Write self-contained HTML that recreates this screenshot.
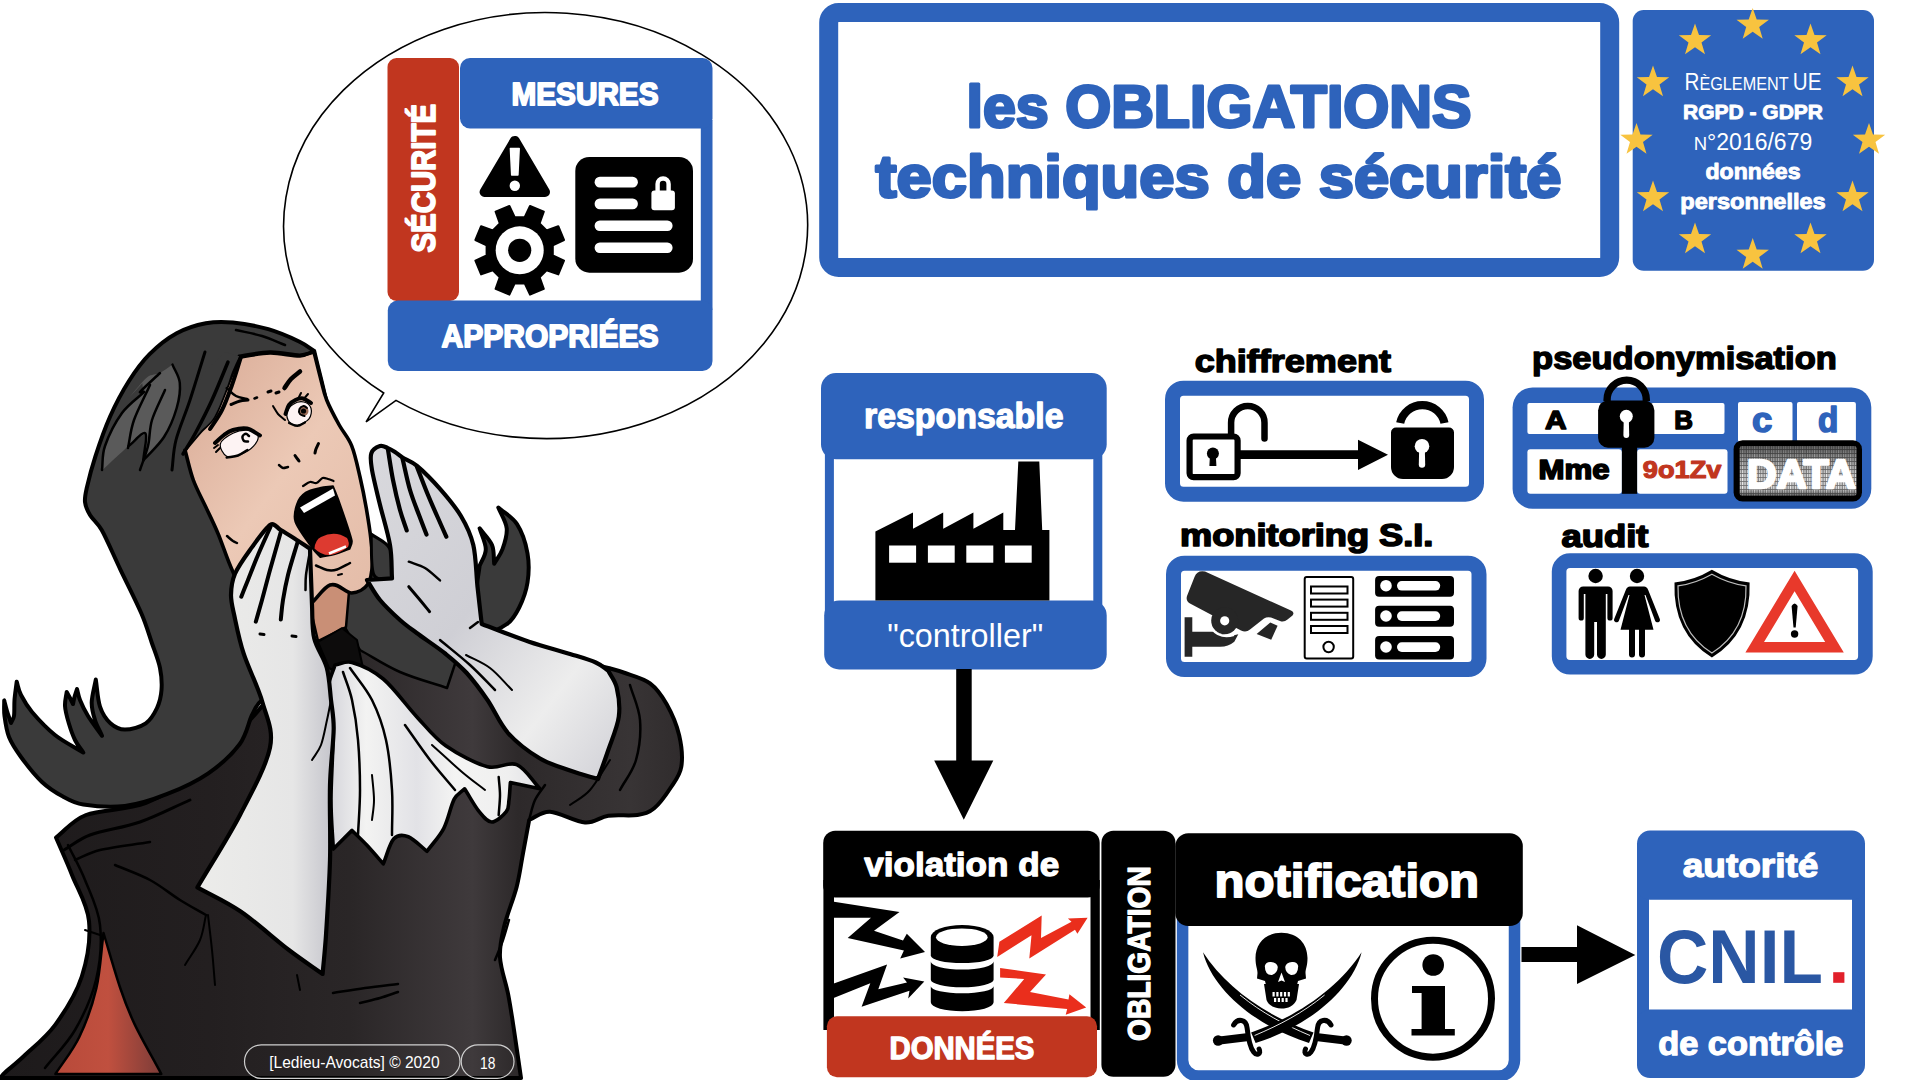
<!DOCTYPE html>
<html lang="fr">
<head>
<meta charset="utf-8">
<title>les OBLIGATIONS techniques de sécurité</title>
<style>
html,body{margin:0;padding:0;background:#fff;}
body{width:1920px;height:1080px;overflow:hidden;position:relative;}
svg{position:absolute;left:0;top:0;display:block;}
text{font-family:"Liberation Sans",sans-serif;}
.xb{font-weight:bold;paint-order:stroke fill;stroke-linejoin:round;}
</style>
</head>
<body>
<svg width="1920" height="1080" viewBox="0 0 1920 1080">
<defs>
<path id="star" d="M0,-17 L4,-5.5 L16.2,-5.3 L6.5,2.1 L10,13.8 L0,6.8 L-10,13.8 L-6.5,2.1 L-16.2,-5.3 L-4,-5.5 Z"/>
</defs>
<rect width="1920" height="1080" fill="#fff"/>

<!--ILLUS_START-->
<g id="illustration">
<defs>
<linearGradient id="gRobe" gradientUnits="userSpaceOnUse" x1="0" y1="0" x2="700" y2="0"><stop offset="0" stop-color="#1d1a1b"/><stop offset="0.3" stop-color="#231f20"/><stop offset="0.5" stop-color="#2a2627"/><stop offset="0.675" stop-color="#3f3a3c"/><stop offset="0.74" stop-color="#2d292a"/><stop offset="0.9" stop-color="#383435"/><stop offset="1" stop-color="#2d292a"/></linearGradient>
<linearGradient id="gGlove" x1="0" y1="0" x2="1" y2="0"><stop offset="0" stop-color="#ececea"/><stop offset="0.7" stop-color="#e6e6e6"/><stop offset="1" stop-color="#c4c4cb"/></linearGradient>
<linearGradient id="gGloveR" x1="0" y1="0" x2="1" y2="1"><stop offset="0" stop-color="#d9d9dd"/><stop offset="0.45" stop-color="#cfcfd5"/><stop offset="0.75" stop-color="#ededed"/><stop offset="1" stop-color="#d0d0d6"/></linearGradient>
<linearGradient id="gJabot" x1="0" y1="0" x2="1" y2="0"><stop offset="0" stop-color="#d4d4da"/><stop offset="0.18" stop-color="#f3f3f2"/><stop offset="0.42" stop-color="#e2e2e6"/><stop offset="0.6" stop-color="#f4f4f3"/><stop offset="0.85" stop-color="#efefef"/><stop offset="1" stop-color="#e0e0e4"/></linearGradient>
<linearGradient id="gRed" x1="0" y1="0" x2="1" y2="0"><stop offset="0" stop-color="#b84a3a"/><stop offset="0.5" stop-color="#c0503f"/><stop offset="1" stop-color="#7c3c38"/></linearGradient>
<linearGradient id="gFace" x1="0" y1="0" x2="1" y2="1"><stop offset="0" stop-color="#d8a994"/><stop offset="0.5" stop-color="#ecc9b6"/><stop offset="1" stop-color="#e3bba7"/></linearGradient>
</defs>
<path d="M56.0,837.5 C66.0,830.0 72.0,820.4 86.0,815.0 C101.0,809.2 127.0,810.5 146.0,803.0 C165.0,795.5 182.7,783.8 200.0,770.0 C217.3,756.2 231.0,740.9 250.0,720.0 C269.7,698.3 302.2,655.8 318.0,640.0 C326.7,631.3 334.7,625.0 345.0,625.0 C355.3,625.0 368.1,638.7 380.0,640.0 C391.9,641.3 401.8,633.0 416.7,633.0 C436.7,633.0 468.1,634.2 500.0,640.0 C531.9,645.8 587.5,662.5 608.3,668.0 C615.0,669.8 618.5,670.6 625.0,673.0 C632.0,675.5 643.0,678.1 650.0,683.3 C657.0,688.5 661.8,695.5 666.7,704.2 C671.6,712.9 676.8,725.0 679.2,735.4 C681.6,745.8 682.7,758.0 681.3,766.7 C679.9,775.4 675.3,780.6 670.8,787.5 C666.3,794.4 659.8,803.7 654.2,808.3 C648.7,812.9 644.6,813.8 637.5,815.0 C629.9,816.2 617.0,814.5 608.3,815.8 C599.5,817.0 594.7,823.2 585.0,822.5 C575.3,821.8 559.3,812.1 550.0,811.7 C541.1,811.3 536.1,817.2 529.2,820.0 C527.1,831.1 525.1,842.2 523.0,853.3 C520.9,864.4 519.8,874.5 516.7,886.7 C513.6,898.9 507.0,914.5 504.2,926.3 C501.4,938.1 499.3,946.0 500.0,957.5 C500.7,969.0 506.0,982.9 508.3,995.0 C510.6,1007.1 511.9,1016.2 514.0,1030.0 C516.1,1043.8 518.7,1062.0 521.0,1078.0 L0.0,1078.0 C1.6,1076.3 2.7,1074.7 4.8,1072.8 C8.8,1069.1 16.6,1063.0 24.0,1056.0 C32.4,1048.0 45.8,1037.8 55.4,1024.6 C65.0,1011.3 76.2,993.8 81.8,976.5 C87.4,959.2 90.6,937.9 89.0,921.0 C87.4,904.1 77.7,889.3 72.2,875.4 C66.7,861.5 61.4,850.1 56.0,837.5Z" fill="url(#gRobe)" stroke="#000" stroke-width="4" stroke-linejoin="round" />
<path d="M103.5,933.0 C109.1,951.5 115.2,973.2 120.4,988.5 C125.4,1003.2 128.1,1010.6 134.8,1024.6 C141.6,1038.8 152.5,1057.5 161.3,1074.0 L55.4,1074.0 C63.4,1061.6 72.6,1051.0 79.4,1036.7 C86.2,1022.5 92.3,1005.8 96.3,988.5 C100.3,971.2 101.1,951.5 103.5,933.0Z" fill="url(#gRed)" stroke="#000" stroke-width="2.5" stroke-linejoin="round" />
<path d="M314.2,351.0 C309.3,347.9 305.9,344.7 299.6,341.7 C292.0,338.1 279.4,332.4 268.3,329.2 C257.2,326.0 243.3,323.5 232.9,322.5 C222.5,321.5 215.2,321.5 205.8,323.3 C196.4,325.1 186.1,328.2 176.7,333.3 C167.3,338.4 157.6,346.2 149.6,354.2 C141.6,362.2 135.4,370.9 128.8,381.3 C122.2,391.7 115.6,404.2 110.0,416.7 C104.4,429.2 99.2,444.6 95.4,456.3 C91.6,468.0 88.7,479.4 87.0,487.0 C85.7,492.9 84.5,497.3 85.0,502.0 C85.5,506.7 87.2,510.3 90.0,515.0 C92.8,519.7 98.0,523.4 101.7,530.0 C106.8,539.1 113.8,555.7 120.4,569.6 C127.0,583.5 136.1,601.1 141.3,613.3 C146.2,624.7 148.6,633.4 151.7,642.5 C154.8,651.6 158.4,660.1 160.0,668.0 C161.6,675.9 162.0,683.3 161.5,690.0 C161.0,696.7 159.6,702.5 157.0,708.0 C154.4,713.5 151.1,719.7 145.8,723.3 C140.5,726.9 130.9,729.6 125.0,729.6 C119.1,729.6 114.6,727.1 110.4,723.3 C106.2,719.5 102.4,714.0 100.0,706.7 C97.6,699.4 97.2,688.6 95.8,679.6 C94.4,687.2 91.8,695.8 91.7,702.5 C91.6,709.2 93.3,714.5 95.0,720.0 C96.7,725.5 99.7,730.5 102.0,735.8 C97.3,729.2 91.7,722.0 88.0,716.0 C84.3,710.0 81.8,704.5 80.0,700.0 C78.3,695.8 78.0,692.7 77.0,689.0 C76.2,691.7 75.2,694.5 74.5,697.0 C73.8,699.5 73.5,701.7 73.0,704.0 C72.0,702.0 71.0,700.0 70.0,698.0 C69.0,696.0 67.8,694.0 66.7,692.0 C66.1,696.7 64.7,700.8 65.0,706.0 C65.3,711.2 67.1,717.6 68.8,723.3 C70.5,729.0 72.6,735.1 75.0,740.0 C77.4,744.9 80.5,748.3 83.3,752.5 C73.9,746.7 63.5,741.8 55.0,735.0 C46.5,728.2 37.7,718.7 32.0,712.0 C26.8,705.8 23.6,700.0 21.0,695.0 C18.5,690.0 18.1,686.1 16.7,681.7 C16.0,687.8 14.9,694.3 14.5,700.0 C14.1,705.7 14.6,712.2 14.0,716.0 C13.5,719.0 12.0,720.7 11.0,723.0 C9.7,719.0 8.1,714.8 7.0,711.0 C5.9,707.2 5.1,703.9 4.2,700.4 C4.3,705.6 3.7,709.9 4.5,716.0 C5.3,722.1 6.3,730.2 9.0,737.0 C11.7,743.8 15.4,749.3 20.8,756.7 C26.2,764.2 34.8,775.1 41.7,781.7 C48.7,788.3 55.6,792.5 62.5,796.3 C69.4,800.1 74.4,803.2 83.3,804.6 C93.7,806.2 111.1,807.7 125.0,806.0 C138.9,804.3 152.8,799.7 166.7,794.2 C180.6,788.8 196.2,781.6 208.3,773.3 C220.5,765.0 232.3,753.9 239.6,744.2 C246.9,734.5 248.3,722.4 252.0,715.0 C255.3,708.6 256.5,704.2 262.0,700.0 C267.5,695.8 279.6,698.5 285.0,690.0 C291.3,680.0 294.6,660.2 300.0,640.0 C305.8,618.3 313.3,583.3 320.0,560.0 C326.7,536.7 338.3,523.3 340.0,500.0 C341.7,476.7 334.3,444.8 330.0,420.0 C325.7,395.2 319.5,374.0 314.2,351.0Z" fill="#3a3a3a" stroke="#000" stroke-width="4" stroke-linejoin="round" />
<path d="M498.3,507.5 C504.5,513.1 512.1,516.6 517.0,524.2 C521.9,531.8 525.8,543.6 527.5,553.3 C529.2,563.0 528.9,573.5 527.5,582.5 C526.1,591.5 522.7,600.5 519.2,607.5 C515.7,614.5 512.3,620.5 506.7,624.2 C501.1,628.0 490.9,634.0 485.8,630.0 C480.7,626.0 477.0,610.7 476.0,600.0 C475.0,589.3 478.4,577.2 479.6,565.8 C481.7,560.3 485.8,555.5 485.8,549.2 C485.8,543.0 481.7,535.3 479.6,528.3 C483.7,533.9 489.6,539.1 492.0,545.0 C494.4,550.9 493.5,557.5 494.2,563.8 C497.0,558.9 500.4,555.1 502.5,549.2 C504.6,543.3 507.4,535.2 506.7,528.3 C506.0,521.3 501.1,514.4 498.3,507.5Z" fill="#3a3a3a" stroke="#000" stroke-width="4" stroke-linejoin="round" />
<path d="M336.0,590.0 C348.0,580.0 362.2,561.7 372.0,560.0 C381.8,558.3 390.0,571.2 395.0,580.0 C400.0,588.8 396.2,603.5 402.0,613.0 C407.8,622.5 420.7,630.0 430.0,637.0 C439.3,644.0 448.7,649.0 458.0,655.0 L447.0,688.0 C431.3,682.7 414.5,678.3 400.0,672.0 C385.5,665.7 373.3,657.3 360.0,650.0 C354.7,641.7 348.0,635.0 344.0,625.0 C340.0,615.0 338.7,601.7 336.0,590.0Z" fill="#3a3a3a" stroke="#000" stroke-width="2.5" stroke-linejoin="round" />
<path d="M305.0,585.0 L350.0,580.0 L346.0,627.0 L318.0,641.0 L305.0,585.0Z" fill="#c98f76" stroke="#000" stroke-width="2.5" stroke-linejoin="round" />
<path d="M239.2,356.3 C249.5,354.9 259.9,352.2 270.0,352.0 C280.1,351.8 292.3,355.2 299.6,355.2 C305.5,355.2 309.2,353.1 314.0,352.0 C316.3,361.3 318.9,372.0 321.0,380.0 C323.1,388.0 323.7,392.5 326.7,400.0 C329.7,407.5 335.0,417.4 339.2,425.0 C343.4,432.6 348.2,437.1 351.7,445.8 C355.2,454.5 357.6,466.6 360.0,477.0 C362.4,487.4 364.5,497.8 366.3,508.3 C368.1,518.8 370.0,530.9 371.0,540.0 C372.0,549.1 373.0,555.7 372.5,563.0 C372.0,570.3 371.5,579.0 368.0,584.0 C364.5,589.0 358.0,592.8 351.7,593.0 C345.4,593.2 338.6,582.2 330.0,585.0 C321.4,587.8 313.3,607.5 300.0,610.0 C286.7,612.5 261.2,606.4 250.0,600.0 C238.8,593.6 238.2,582.7 232.9,571.7 C227.6,560.7 222.8,545.0 218.3,534.2 C213.8,523.4 210.0,516.0 205.8,507.0 C201.6,498.0 196.8,489.5 193.3,480.0 C189.8,470.5 187.8,460.0 185.0,450.0 C190.0,444.0 195.1,437.6 200.0,432.0 C204.9,426.4 209.9,423.9 214.2,416.7 C218.6,409.3 222.5,397.6 226.7,387.5 C230.9,377.4 235.0,366.7 239.2,356.3Z" fill="url(#gFace)" stroke="#000" stroke-width="3.6" stroke-linejoin="round" />
<path d="M239.2,356.3 C236.8,361.5 234.1,366.8 232.0,372.0 C229.9,377.2 229.1,381.4 226.7,387.5 C223.7,394.9 218.6,409.3 214.2,416.7 C209.9,423.9 204.9,426.4 200.0,432.0 C195.1,437.6 190.0,444.0 185.0,450.0 C182.7,446.7 177.0,444.8 178.0,440.0 C180.5,428.3 192.2,394.7 200.0,380.0 C207.1,366.8 216.7,361.3 225.0,352.0 L239.2,356.3Z" fill="#3a3a3a" stroke="#000" stroke-width="0" stroke-linecap="round" stroke-linejoin="round"/>
<path d="M241.0,357.0 C238.0,366.3 235.2,376.2 232.0,385.0 C228.8,393.8 225.7,402.7 222.0,410.0 C218.3,417.3 214.0,422.7 210.0,429.0" fill="none" stroke="#000" stroke-width="4" stroke-linecap="round" stroke-linejoin="round"/>
<path d="M228.0,362.0 C222.7,374.7 217.3,388.3 212.0,400.0 C206.7,411.7 200.8,423.0 196.0,432.0 C191.2,441.0 187.3,446.7 183.0,454.0" fill="none" stroke="#000" stroke-width="3.5" stroke-linecap="round" stroke-linejoin="round"/>
<path d="M226.7,388.0 C229.8,390.7 232.6,394.2 236.0,396.0 C239.4,397.8 243.3,398.0 247.0,399.0" fill="none" stroke="#000" stroke-width="2.5" stroke-linecap="round" stroke-linejoin="round"/>
<path d="M314.0,351.0 C309.3,352.7 305.9,355.7 300.0,356.0 C292.7,356.3 279.8,352.8 270.0,353.0 C260.2,353.2 250.7,355.7 241.0,357.0" fill="none" stroke="#000" stroke-width="3.5" stroke-linecap="round" stroke-linejoin="round"/>
<path d="M172.5,364.6 C174.9,370.8 179.1,376.0 179.8,383.3 C180.5,390.6 179.3,399.3 176.7,408.3 C174.1,417.3 169.8,428.8 164.2,437.5 C158.6,446.2 150.3,452.8 143.3,460.4 L145.4,433.3 C139.9,437.5 135.1,440.4 128.8,445.8 C121.5,452.1 110.7,462.5 101.7,470.8 C102.7,462.5 101.4,455.3 104.8,445.8 C108.3,436.1 116.1,421.5 122.5,412.5 C128.9,403.5 136.4,398.6 143.3,391.7 L142.3,383.3 L128.8,397.9 C135.0,390.9 142.3,381.2 147.5,377.0 C151.6,373.7 155.8,375.0 160.0,372.9 C164.2,370.8 168.3,367.4 172.5,364.6Z" fill="#5a5a5a" stroke="#000" stroke-width="0" stroke-linecap="round" stroke-linejoin="round"/>
<path d="M160.0,373.0 C153.3,379.3 142.7,388.8 140.0,392.0 C139.0,393.2 145.0,390.8 144.0,392.0 C141.0,395.5 128.5,404.0 122.0,413.0 C115.5,422.0 108.3,436.5 105.0,446.0 C101.8,455.1 103.0,462.0 102.0,470.0" fill="none" stroke="#000" stroke-width="2.5" stroke-linecap="round" stroke-linejoin="round"/>
<path d="M143.3,460.4 C150.2,452.6 158.4,445.7 164.0,437.0 C169.6,428.3 174.1,417.0 176.7,408.0 C179.3,399.0 180.5,390.2 179.8,383.0 C179.1,375.8 174.9,370.7 172.5,364.6" fill="none" stroke="#000" stroke-width="2.5" stroke-linecap="round" stroke-linejoin="round"/>
<path d="M128.8,445.8 C134.3,441.6 143.0,430.9 145.4,433.3 C147.8,435.7 144.0,451.4 143.3,460.4" fill="none" stroke="#000" stroke-width="2.5" stroke-linecap="round" stroke-linejoin="round"/>
<path d="M236.0,330.0 C244.7,332.0 253.8,333.5 262.0,336.0 C270.2,338.5 277.3,342.0 285.0,345.0" fill="none" stroke="#000" stroke-width="2.5" stroke-linecap="round" stroke-linejoin="round"/>
<path d="M205.0,352.0 C200.0,368.0 194.8,385.3 190.0,400.0 C185.2,414.7 179.0,428.3 176.0,440.0 C173.0,451.7 173.3,460.0 172.0,470.0" fill="none" stroke="#000" stroke-width="3" stroke-linecap="round" stroke-linejoin="round"/>
<path d="M150.0,385.0 C144.7,396.7 137.7,409.5 134.0,420.0 C130.3,430.5 130.0,438.7 128.0,448.0" fill="none" stroke="#000" stroke-width="2.5" stroke-linecap="round" stroke-linejoin="round"/>
<path d="M165.0,390.0 C160.7,400.0 154.8,410.7 152.0,420.0 C149.2,429.3 150.0,437.7 148.0,446.0 C146.0,454.3 142.7,462.0 140.0,470.0" fill="none" stroke="#000" stroke-width="2.5" stroke-linecap="round" stroke-linejoin="round"/>
<path d="M220.4,443.8 C221.4,440.0 228.4,435.6 232.9,433.3 C237.4,431.0 243.3,429.9 247.5,430.2 C251.7,430.5 256.8,432.8 257.9,435.4 C258.9,438.0 256.6,442.7 253.8,445.8 C251.0,448.9 245.8,452.4 241.3,454.2 C236.8,455.9 230.2,458.0 226.7,456.3 C223.2,454.6 219.4,447.6 220.4,443.8Z" fill="#fdf3f3" stroke="#000" stroke-width="1.2" stroke-linecap="round" stroke-linejoin="round"/>
<path d="M215.0,443.0 C218.0,440.3 221.0,437.2 224.0,435.0 C227.0,432.8 229.2,431.1 233.0,430.0 C236.8,428.9 242.5,427.6 247.0,428.5 C251.5,429.4 255.7,433.1 260.0,435.4" fill="none" stroke="#000" stroke-width="4" stroke-linecap="round" stroke-linejoin="round"/>
<path d="M226.7,457.5 C230.5,456.8 234.5,456.8 238.0,455.5 C241.5,454.2 244.3,451.8 247.5,450.0" fill="none" stroke="#000" stroke-width="2.5" stroke-linecap="round" stroke-linejoin="round"/>
<path d="M249.0,436.0 C248.0,435.3 247.1,433.7 246.0,433.8 C244.9,433.9 242.8,435.3 242.5,436.5 C242.2,437.7 243.1,440.2 244.0,441.0 C244.9,441.8 246.7,441.3 248.0,441.5" fill="none" stroke="#000" stroke-width="2.5" stroke-linecap="round" stroke-linejoin="round"/>
<path d="M214.0,448.0 L218.0,445.0" fill="none" stroke="#000" stroke-width="2" stroke-linecap="round" stroke-linejoin="round"/>
<path d="M216.0,452.0 L220.0,448.0" fill="none" stroke="#000" stroke-width="2" stroke-linecap="round" stroke-linejoin="round"/>
<path d="M287.0,412.5 C287.7,409.6 290.5,405.9 293.3,404.2 C296.1,402.4 300.9,401.3 303.8,402.0 C306.8,402.7 310.1,405.5 311.0,408.3 C311.9,411.1 311.2,416.0 309.0,418.8 C306.8,421.6 300.8,424.5 297.5,425.0 C294.2,425.5 290.9,424.0 289.2,421.9 C287.4,419.8 286.3,415.4 287.0,412.5Z" fill="#fdf3f3" stroke="#000" stroke-width="1.2" stroke-linecap="round" stroke-linejoin="round"/>
<path d="M285.5,414.0 C286.7,411.0 287.4,407.3 289.0,405.0 C290.6,402.7 293.1,401.1 295.4,400.0 C297.7,398.9 300.4,398.0 303.0,398.5 C305.6,399.0 308.3,401.5 311.0,403.0" fill="none" stroke="#000" stroke-width="4" stroke-linecap="round" stroke-linejoin="round"/>
<path d="M289.0,423.0 C291.8,424.0 294.8,426.1 297.5,426.0 C300.2,425.9 302.5,423.7 305.0,422.5" fill="none" stroke="#000" stroke-width="2.2" stroke-linecap="round" stroke-linejoin="round"/>
<circle cx="303.5" cy="411" r="5" fill="#9a6a55"/><circle cx="303.5" cy="411" r="2.6" fill="#000"/>
<path d="M307.0,408.0 C305.8,407.3 304.8,405.8 303.5,406.0 C302.2,406.2 300.1,407.7 299.5,409.0 C298.9,410.3 299.2,412.8 300.0,414.0 C300.8,415.2 303.0,415.3 304.5,416.0" fill="none" stroke="#000" stroke-width="2" stroke-linecap="round" stroke-linejoin="round"/>
<path d="M299.0,397.0 L301.0,393.0" fill="none" stroke="#000" stroke-width="2" stroke-linecap="round" stroke-linejoin="round"/>
<path d="M305.0,397.5 L308.0,394.0" fill="none" stroke="#000" stroke-width="2" stroke-linecap="round" stroke-linejoin="round"/>
<path d="M284.5,388.0 C286.7,385.0 288.4,381.8 291.0,379.0 C293.6,376.2 297.0,374.0 300.0,371.5" fill="none" stroke="#000" stroke-width="4.5" stroke-linecap="round" stroke-linejoin="round"/>
<path d="M268.0,392.0 L271.0,391.0" fill="none" stroke="#000" stroke-width="3" stroke-linecap="round" stroke-linejoin="round"/>
<path d="M276.0,393.0 L279.0,392.0" fill="none" stroke="#000" stroke-width="3" stroke-linecap="round" stroke-linejoin="round"/>
<path d="M231.0,404.5 C234.0,403.3 237.2,401.8 240.0,401.0 C242.8,400.2 245.3,400.3 248.0,400.0" fill="none" stroke="#000" stroke-width="3" stroke-linecap="round" stroke-linejoin="round"/>
<path d="M254.5,398.5 L257.0,397.5" fill="none" stroke="#000" stroke-width="2.5" stroke-linecap="round" stroke-linejoin="round"/>
<path d="M273.0,406.0 C274.7,408.7 276.0,411.7 278.0,414.0 C280.0,416.3 282.7,418.0 285.0,420.0" fill="none" stroke="#000" stroke-width="2" stroke-linecap="round" stroke-linejoin="round"/>
<path d="M318.5,443.5 C317.7,445.3 316.6,447.4 316.0,449.0 C315.4,450.5 315.3,451.7 315.0,453.0" fill="none" stroke="#000" stroke-width="3" stroke-linecap="round" stroke-linejoin="round"/>
<path d="M295.0,455.5 C295.8,456.7 296.8,458.1 297.5,459.0 C298.1,459.8 298.5,460.3 299.0,461.0" fill="none" stroke="#000" stroke-width="3" stroke-linecap="round" stroke-linejoin="round"/>
<path d="M279.0,465.0 C280.3,466.0 281.5,467.7 283.0,468.0 C284.5,468.3 286.3,467.3 288.0,467.0" fill="none" stroke="#000" stroke-width="2.5" stroke-linecap="round" stroke-linejoin="round"/>
<path d="M303.0,486.0 C305.3,484.7 307.8,482.5 310.0,482.0 C312.2,481.5 314.4,483.7 316.5,483.0 C318.6,482.3 320.6,478.7 322.5,478.0 C324.4,477.3 326.2,478.5 328.0,479.0 C329.8,479.5 331.7,480.3 333.5,481.0" fill="none" stroke="#000" stroke-width="2.2" stroke-linecap="round" stroke-linejoin="round"/>
<path d="M316.0,565.5 C319.7,567.0 323.5,569.3 327.0,570.0 C330.5,570.7 333.2,570.7 337.0,569.5 C340.8,568.3 345.7,565.2 350.0,563.0" fill="none" stroke="#000" stroke-width="2.5" stroke-linecap="round" stroke-linejoin="round"/>
<path d="M338.0,575.0 L342.0,574.0" fill="none" stroke="#000" stroke-width="2" stroke-linecap="round" stroke-linejoin="round"/>
<path d="M227.0,536.0 C229.0,537.7 231.3,539.8 233.0,541.0 C234.5,542.0 235.7,542.3 237.0,543.0" fill="none" stroke="#000" stroke-width="2.5" stroke-linecap="round" stroke-linejoin="round"/>
<path d="M297.5,503.0 C299.2,498.1 302.1,495.0 305.8,492.5 C309.6,490.0 315.5,489.0 320.0,488.0 C324.5,487.0 328.7,486.9 333.0,486.3 C335.4,492.5 337.6,497.4 340.2,505.0 C343.3,514.0 350.1,533.1 351.7,540.4 C352.4,543.8 350.3,546.0 349.6,548.8 C344.7,550.5 339.9,552.6 335.0,554.0 C330.1,555.4 325.3,556.0 320.4,557.0 C317.9,554.3 315.6,552.4 313.0,548.8 C308.8,542.9 298.0,529.3 295.4,521.7 C293.0,514.6 295.8,507.9 297.5,503.0Z" fill="#000" stroke="#000" stroke-width="2" stroke-linejoin="round" />
<path d="M300,507.500 L333,488.500 L335,495.500 L304,513 Z" fill="#fff"/>
<path d="M314.500,548.500 Q315,540 321,537 Q335,530 347,538 Q350,543 348,547 Q340,553 331,555 Q322,556 314.500,548.500 Z" fill="#dd3a30"/>
<path d="M329,553.500 L346,546.500" stroke="#fff" stroke-width="2.5" fill="none"/>
<path d="M371.0,534.0 C377.3,539.0 386.3,541.3 390.0,549.0 C393.7,556.7 392.0,569.7 393.0,580.0 C386.7,578.3 377.4,582.1 374.0,575.0 C370.3,567.3 372.0,547.7 371.0,534.0Z" fill="#3a3a3a" stroke="#000" stroke-width="3" stroke-linejoin="round" />
<path d="M318,642 L342,628 L357,640 L363,668 L340,674 L329,668 Z" fill="#0d0c0c" stroke="#000" stroke-width="2" stroke-linejoin="round"/>
<path d="M335.0,665.0 C340.7,664.2 345.4,660.6 352.0,662.5 C360.1,664.8 372.5,670.0 383.3,679.0 C394.1,688.0 406.3,705.6 416.7,716.7 C427.1,727.8 434.0,737.5 445.8,745.8 C457.6,754.1 475.7,763.6 487.5,766.7 C498.8,769.7 508.0,760.9 516.7,764.6 C525.5,768.3 532.2,780.7 540.0,788.7 L510.4,782.5 C509.9,788.3 509.7,795.1 509.0,800.0 C508.3,804.8 509.2,808.0 506.3,811.7 C503.4,815.4 496.2,822.0 491.7,822.0 C487.2,822.0 483.3,816.7 479.2,811.7 C474.7,806.2 469.5,796.4 464.6,788.8 C461.1,792.3 456.9,794.0 454.2,799.2 C450.7,805.8 448.3,819.6 443.8,828.3 C439.3,837.0 432.6,843.6 427.0,851.3 C420.8,846.4 413.8,838.8 408.3,836.7 C402.8,834.6 397.8,834.5 393.8,838.8 C389.6,843.3 386.8,855.5 383.3,863.8 C377.8,857.5 371.9,850.6 366.7,845.0 C361.5,839.4 356.9,835.3 352.0,830.4 L333.3,849.0 C332.5,832.7 331.0,819.6 331.0,800.0 C330.9,780.2 333.5,748.3 333.0,730.0 C332.6,713.9 327.7,700.8 328.0,690.0 C328.3,679.6 332.7,673.3 335.0,665.0Z" fill="url(#gJabot)" stroke="#000" stroke-width="3.6" stroke-linejoin="round" />
<path d="M343.0,672.0 C346.0,681.3 349.5,688.7 352.0,700.0 C354.5,711.3 356.7,725.0 358.0,740.0 C359.3,755.0 360.0,774.2 360.0,790.0 C360.0,805.8 358.7,820.0 358.0,835.0" fill="none" stroke="#000" stroke-width="2.5" stroke-linecap="round" stroke-linejoin="round"/>
<path d="M350.0,668.0 C357.3,678.7 366.0,688.0 372.0,700.0 C378.0,712.0 382.7,725.0 386.0,740.0 C389.3,755.0 391.0,774.2 392.0,790.0 C393.0,805.8 392.0,820.0 392.0,835.0" fill="none" stroke="#000" stroke-width="2.5" stroke-linecap="round" stroke-linejoin="round"/>
<path d="M405.0,725.0 C413.3,736.7 421.7,749.2 430.0,760.0 C438.3,770.8 446.7,780.0 455.0,790.0" fill="none" stroke="#000" stroke-width="2.5" stroke-linecap="round" stroke-linejoin="round"/>
<path d="M432.0,745.0 C442.0,754.0 453.2,764.5 462.0,772.0 C470.8,779.5 477.3,784.0 485.0,790.0" fill="none" stroke="#000" stroke-width="2" stroke-linecap="round" stroke-linejoin="round"/>
<path d="M372.0,775.0 C372.7,783.3 374.0,792.5 374.0,800.0 C374.0,807.5 372.7,813.3 372.0,820.0" fill="none" stroke="#000" stroke-width="2" stroke-linecap="round" stroke-linejoin="round"/>
<path d="M498.7,777.0 C499.1,783.0 500.0,788.7 500.0,795.0 C500.0,801.3 499.1,808.3 498.7,815.0" fill="none" stroke="#000" stroke-width="2.5" stroke-linecap="round" stroke-linejoin="round"/>
<path d="M270.4,524.8 C274.3,522.3 276.8,527.7 280.8,530.0 C285.3,532.6 292.6,537.3 297.5,540.4 C302.4,543.5 305.8,546.0 310.0,548.8 C310.7,567.5 311.3,590.1 312.0,605.0 C312.6,618.3 311.8,627.9 314.2,638.3 C316.6,648.7 323.9,657.2 326.7,667.5 C329.5,677.8 329.8,689.8 331.0,700.0 C332.2,710.2 333.8,717.2 333.7,728.7 C333.5,742.9 330.6,763.1 330.0,785.0 C329.4,806.9 330.7,835.0 330.0,860.0 C329.3,885.0 327.2,916.0 326.0,935.0 C325.0,950.6 323.7,961.0 322.6,974.0 C311.4,966.0 302.1,960.0 288.9,950.0 C275.2,939.6 255.9,921.9 240.7,911.5 C225.4,901.1 211.8,895.4 197.4,887.4 C211.6,863.3 227.9,838.3 240.0,815.0 C252.1,791.7 266.2,766.2 270.0,747.5 C273.6,729.6 266.9,718.1 262.5,702.5 C258.1,686.9 248.4,668.1 243.7,653.7 C239.0,639.3 236.5,625.8 234.4,616.0 C232.6,607.7 230.9,602.0 231.0,595.0 C231.1,588.0 231.8,581.3 235.0,573.8 C238.2,566.3 244.1,558.2 250.0,550.0 C255.9,541.8 265.3,528.1 270.4,524.8Z" fill="url(#gGlove)" stroke="#000" stroke-width="4.2" stroke-linejoin="round" />
<path d="M270.4,527.0 C266.3,536.3 261.7,546.2 258.0,555.0 C254.3,563.8 250.8,573.0 248.0,580.0 C245.3,586.7 243.5,591.1 241.3,596.7" fill="none" stroke="#000" stroke-width="4" stroke-linecap="round" stroke-linejoin="round"/>
<path d="M280.8,532.0 C277.2,544.7 273.1,558.7 270.0,570.0 C266.9,581.3 264.4,591.4 262.0,600.0 C259.6,608.6 257.9,614.5 255.8,621.7" fill="none" stroke="#000" stroke-width="4" stroke-linecap="round" stroke-linejoin="round"/>
<path d="M297.5,542.5 C294.3,553.3 290.4,565.4 288.0,575.0 C285.6,584.6 284.2,592.6 283.0,600.0 C281.8,607.4 281.5,613.1 280.8,619.6" fill="none" stroke="#000" stroke-width="4" stroke-linecap="round" stroke-linejoin="round"/>
<path d="M310.0,551.0 C308.7,559.0 306.8,568.5 306.0,575.0 C305.3,581.0 305.7,585.0 305.5,590.0" fill="none" stroke="#000" stroke-width="2.5" stroke-linecap="round" stroke-linejoin="round"/>
<path d="M260.0,634.0 L264.0,634.5" fill="none" stroke="#000" stroke-width="3" stroke-linecap="round" stroke-linejoin="round"/>
<path d="M292.0,636.0 L296.0,636.5" fill="none" stroke="#000" stroke-width="3" stroke-linecap="round" stroke-linejoin="round"/>
<path d="M331.0,700.0 C329.7,706.7 328.7,712.5 327.0,720.0 C325.3,727.5 323.5,738.3 321.0,745.0 C318.5,751.6 315.0,755.0 312.0,760.0" fill="none" stroke="#000" stroke-width="2" stroke-linecap="round" stroke-linejoin="round"/>
<path d="M371.3,453.3 C372.6,449.3 377.2,446.9 380.0,446.0 C382.8,445.1 385.4,447.1 387.9,448.1 C390.4,449.1 392.6,450.4 395.0,452.0 C397.4,453.6 399.3,455.5 402.5,457.5 C406.2,459.8 411.9,461.5 417.0,465.8 C423.2,471.0 432.7,480.5 440.0,488.8 C447.3,497.1 455.2,506.4 460.8,515.8 C466.4,525.2 470.5,533.2 473.3,545.0 C476.1,556.8 476.1,573.5 477.5,586.7 C478.9,599.9 480.3,611.6 481.7,624.0 C497.5,629.9 514.1,636.7 529.0,641.7 C543.9,646.7 559.7,650.7 570.8,654.2 C580.9,657.3 589.5,659.7 595.8,662.5 C601.3,664.9 604.1,668.0 608.3,670.8 C611.1,676.4 615.0,680.2 616.7,687.5 C618.5,695.1 620.2,706.3 618.8,716.7 C617.4,727.1 611.8,739.6 608.3,750.0 C604.8,760.4 601.4,769.3 598.0,779.0 C588.9,776.3 580.5,774.2 570.8,770.8 C561.1,767.3 550.0,764.5 539.6,758.3 C529.2,752.0 517.0,743.0 508.3,733.3 C499.6,723.6 494.4,710.0 487.5,700.0 C480.6,690.0 473.6,680.7 466.7,673.0 C459.8,665.3 454.1,660.7 445.8,654.0 C437.5,647.3 424.3,638.7 416.7,633.0 C409.9,628.0 406.1,625.5 400.0,620.0 C393.9,614.5 385.5,606.7 380.0,600.0 C374.5,593.3 371.3,586.7 367.0,580.0 L392.0,578.3 C391.3,567.2 392.1,557.5 390.0,545.0 C387.9,532.5 382.6,515.8 379.6,503.3 C376.6,490.8 373.4,478.3 372.0,470.0 C370.9,463.4 370.0,457.3 371.3,453.3Z" fill="url(#gGloveR)" stroke="#000" stroke-width="4.2" stroke-linejoin="round" />
<path d="M387.9,449.2 C389.6,459.5 391.0,469.9 393.0,480.0 C395.0,490.1 397.7,501.6 400.0,510.0 C402.3,518.3 404.5,523.6 406.7,530.4" fill="none" stroke="#000" stroke-width="4.2" stroke-linecap="round" stroke-linejoin="round"/>
<path d="M402.5,458.5 C405.0,469.0 407.2,480.6 410.0,490.0 C412.8,499.4 416.2,507.6 419.0,515.0 C421.8,522.4 424.0,528.1 426.5,534.6" fill="none" stroke="#000" stroke-width="4.2" stroke-linecap="round" stroke-linejoin="round"/>
<path d="M417.0,467.0 C420.7,476.3 424.5,486.5 428.0,495.0 C431.5,503.5 434.9,511.1 438.0,518.0 C441.1,525.0 443.5,530.5 446.3,536.7" fill="none" stroke="#000" stroke-width="4.2" stroke-linecap="round" stroke-linejoin="round"/>
<path d="M408.8,561.7 C414.2,563.8 419.8,564.9 425.0,568.0 C430.2,571.1 435.0,576.3 440.0,580.4" fill="none" stroke="#000" stroke-width="2.5" stroke-linecap="round" stroke-linejoin="round"/>
<path d="M408.8,586.7 C412.5,591.1 416.5,595.8 420.0,600.0 C423.5,604.2 426.4,607.8 429.6,611.7" fill="none" stroke="#000" stroke-width="3" stroke-linecap="round" stroke-linejoin="round"/>
<path d="M470.0,628.0 L478.0,622.0" fill="none" stroke="#000" stroke-width="2.5" stroke-linecap="round" stroke-linejoin="round"/>
<path d="M440.0,640.0 C450.0,648.3 460.8,656.7 470.0,665.0 C479.2,673.3 486.7,681.7 495.0,690.0" fill="none" stroke="#000" stroke-width="2.5" stroke-linecap="round" stroke-linejoin="round"/>
<path d="M466.0,655.0 C474.0,659.3 482.3,662.2 490.0,668.0 C497.7,673.8 504.7,682.7 512.0,690.0" fill="none" stroke="#000" stroke-width="2" stroke-linecap="round" stroke-linejoin="round"/>
<path d="M64.0,850.0 C72.7,845.0 78.7,839.2 90.0,835.0 C102.7,830.3 123.3,827.8 140.0,822.0 C156.7,816.2 173.3,807.3 190.0,800.0" fill="none" stroke="#000" stroke-width="3" stroke-linecap="round" stroke-linejoin="round"/>
<path d="M75.0,860.0 C83.3,856.7 89.5,852.5 100.0,850.0 C112.5,847.0 133.3,844.7 150.0,842.0" fill="none" stroke="#000" stroke-width="2.5" stroke-linecap="round" stroke-linejoin="round"/>
<path d="M115.0,865.0 C126.7,870.0 139.2,874.2 150.0,880.0 C160.8,885.8 170.7,894.2 180.0,900.0 C189.3,905.8 197.3,910.0 206.0,915.0" fill="none" stroke="#000" stroke-width="2.5" stroke-linecap="round" stroke-linejoin="round"/>
<path d="M206.0,915.0 C204.0,923.3 203.5,931.7 200.0,940.0 C196.5,948.3 190.0,956.7 185.0,965.0" fill="none" stroke="#000" stroke-width="2" stroke-linecap="round" stroke-linejoin="round"/>
<path d="M208.0,915.0 C209.3,926.7 210.8,938.3 212.0,950.0 C213.2,961.7 214.0,973.3 215.0,985.0" fill="none" stroke="#000" stroke-width="2" stroke-linecap="round" stroke-linejoin="round"/>
<path d="M333.0,993.0 C343.7,991.3 354.2,989.5 365.0,988.0 C375.8,986.5 387.0,985.3 398.0,984.0" fill="none" stroke="#000" stroke-width="2.5" stroke-linecap="round" stroke-linejoin="round"/>
<path d="M360.0,1003.0 C366.7,1001.3 373.7,999.8 380.0,998.0 C386.3,996.2 392.0,994.0 398.0,992.0" fill="none" stroke="#000" stroke-width="2.5" stroke-linecap="round" stroke-linejoin="round"/>
<path d="M297.0,975.0 L300.0,990.0" fill="none" stroke="#000" stroke-width="2" stroke-linecap="round" stroke-linejoin="round"/>
<path d="M85.0,930.0 L100.0,935.0" fill="none" stroke="#000" stroke-width="2" stroke-linecap="round" stroke-linejoin="round"/>
<path d="M630.0,685.0 C633.3,696.7 639.0,707.5 640.0,720.0 C641.0,732.5 639.3,748.3 636.0,760.0 C632.7,771.7 625.3,780.0 620.0,790.0" fill="none" stroke="#000" stroke-width="2.5" stroke-linecap="round" stroke-linejoin="round"/>
<path d="M529.0,820.0 C531.0,813.3 532.3,805.8 535.0,800.0 C537.7,794.2 541.7,790.0 545.0,785.0" fill="none" stroke="#000" stroke-width="2.5" stroke-linecap="round" stroke-linejoin="round"/>
<path d="M509.0,920.0 C507.0,926.7 505.3,933.3 503.0,940.0 C500.7,946.7 497.7,953.3 495.0,960.0" fill="none" stroke="#000" stroke-width="2.5" stroke-linecap="round" stroke-linejoin="round"/>
<path d="M610.0,760.0 C603.3,770.0 596.7,782.5 590.0,790.0 C583.4,797.5 576.7,800.0 570.0,805.0" fill="none" stroke="#000" stroke-width="2" stroke-linecap="round" stroke-linejoin="round"/>
<path d="M68.0,845.0 C73.7,856.7 79.7,866.7 85.0,880.0 C90.3,893.3 98.2,908.3 100.0,925.0 C101.8,941.7 100.2,962.5 96.0,980.0 C91.8,997.5 83.5,1015.3 75.0,1030.0 C66.5,1044.7 55.0,1055.3 45.0,1068.0" fill="none" stroke="#000" stroke-width="2.5" stroke-linecap="round" stroke-linejoin="round"/>
<rect x="244.500" y="1044.800" width="215.500" height="33.500" rx="16.700" fill="none" stroke="#cfcfcf" stroke-width="1.200"/>
<rect x="461.200" y="1044.800" width="52.800" height="33.500" rx="16.700" fill="none" stroke="#cfcfcf" stroke-width="1.200"/>
<text x="269.200" y="1067.800" font-size="17" fill="#fff" textLength="170.400" lengthAdjust="spacingAndGlyphs">[Ledieu-Avocats] © 2020</text>
<text x="480" y="1068.500" font-size="17" fill="#fff" textLength="15.400" lengthAdjust="spacingAndGlyphs">18</text>
</g>
<!--ILLUS_END-->

<!-- ===== speech bubble ===== -->
<g id="bubble">
<path d="M383.7,393 A262,213 0 1 1 396,400.4 L366.1,421.8 Z" fill="#fff" stroke="#000" stroke-width="1.6" stroke-linejoin="miter"/>
<rect x="700.8" y="120" width="11.7" height="190" fill="#2E63BB"/>
<rect x="387.5" y="58" width="71.5" height="243" rx="9" fill="#C1361F"/>
<rect x="460" y="58" width="252.5" height="70.5" rx="10" fill="#2E63BB"/>
<rect x="387.8" y="300.5" width="324.7" height="70.5" rx="10" fill="#2E63BB"/>
<text class="xb" x="511.5" y="104.8" font-size="32" fill="#fff" stroke="#fff" stroke-width="1.8" textLength="147" lengthAdjust="spacingAndGlyphs">MESURES</text>
<text class="xb" x="441.5" y="347" font-size="31.5" fill="#fff" stroke="#fff" stroke-width="1.8" textLength="217" lengthAdjust="spacingAndGlyphs">APPROPRIÉES</text>
<text class="xb" transform="translate(435.4,252.5) rotate(-90)" x="0" y="0" font-size="34" fill="#fff" stroke="#fff" stroke-width="1.8" textLength="148.5" lengthAdjust="spacingAndGlyphs">SÉCURITÉ</text>
<g id="bubble-icons">
<path d="M514.8,140.9 L484.6,192 L545,192 Z" fill="#000" stroke="#000" stroke-width="10" stroke-linejoin="round"/>
<path d="M510.4,148.5 h8.8 l-1.3,26.5 h-6.2 Z" fill="#fff" stroke="#fff" stroke-width="1.5" stroke-linejoin="round"/>
<circle cx="514.8" cy="185.7" r="5.2" fill="#fff"/>
<path d="M552.8,255.3 L564.0,260.6 L558.3,274.4 L546.6,270.2 L539.6,277.2 L543.8,288.9 L530.0,294.6 L524.7,283.4 L514.7,283.4 L509.4,294.6 L495.6,288.9 L499.8,277.2 L492.8,270.2 L481.1,274.4 L475.4,260.6 L486.6,255.3 L486.6,245.3 L475.4,240.0 L481.1,226.2 L492.8,230.4 L499.8,223.4 L495.6,211.7 L509.4,206.0 L514.7,217.2 L524.7,217.2 L530.0,206.0 L543.8,211.7 L539.6,223.4 L546.6,230.4 L558.3,226.2 L564.0,240.0 L552.8,245.3Z" fill="#000" stroke="#000" stroke-width="2" stroke-linejoin="round"/>
<circle cx="519.7" cy="250.3" r="24" fill="#fff"/>
<circle cx="519.7" cy="250.3" r="11.6" fill="#000"/>
<rect x="575.3" y="157" width="117.7" height="115.7" rx="14" fill="#000"/>
<g fill="#fff">
<rect x="594.6" y="176.8" width="43.3" height="10.7" rx="5.3"/>
<rect x="594.6" y="198.5" width="43.3" height="10.7" rx="5.3"/>
<rect x="594.6" y="220.5" width="78" height="10.5" rx="5.2"/>
<rect x="594.6" y="242.5" width="78" height="10.5" rx="5.2"/>
<rect x="651.4" y="190.4" width="23.5" height="19.8" rx="3"/>
</g>
<path d="M657.6,192 V184 a5.5,5.5 0 0 1 11,0 V192" fill="none" stroke="#fff" stroke-width="4.4"/>
</g>
</g>

<!-- ===== title ===== -->
<g id="title">
<rect x="828.7" y="12.5" width="781" height="255" rx="10" fill="#fff" stroke="#2E63BB" stroke-width="19"/>
<text class="xb" x="966.5" y="127.2" font-size="59.5" fill="#2E63BB" stroke="#2E63BB" stroke-width="3" textLength="505" lengthAdjust="spacingAndGlyphs">les OBLIGATIONS</text>
<text class="xb" x="875.5" y="197.4" font-size="59.5" fill="#2E63BB" stroke="#2E63BB" stroke-width="3" textLength="686" lengthAdjust="spacingAndGlyphs">techniques de sécurité</text>
</g>

<!-- ===== EU flag ===== -->
<g id="eu">
<rect x="1632.7" y="10" width="241.3" height="260.7" rx="11" fill="#2E63BB"/>
<g fill="#F8C33F">
<use href="#star" x="1752.7" y="25"/>
<use href="#star" x="1810.5" y="40.5"/>
<use href="#star" x="1852.5" y="82.5"/>
<use href="#star" x="1869" y="140"/>
<use href="#star" x="1852.5" y="197.5"/>
<use href="#star" x="1810.5" y="239.5"/>
<use href="#star" x="1752.7" y="255"/>
<use href="#star" x="1695" y="239.5"/>
<use href="#star" x="1653" y="197.5"/>
<use href="#star" x="1636.5" y="140"/>
<use href="#star" x="1653" y="82.5"/>
<use href="#star" x="1695" y="40.5"/>
</g>
<g fill="#fff" text-anchor="middle">
<text x="1753" y="90" font-size="18.5" textLength="137" lengthAdjust="spacingAndGlyphs"><tspan font-size="23.5">R</tspan>ÈGLEMENT <tspan font-size="23.5">UE</tspan></text>
<text class="xb" x="1753" y="118.5" font-size="20.5" stroke="#fff" stroke-width="0.9" textLength="140" lengthAdjust="spacingAndGlyphs">RGPD - GDPR</text>
<text x="1753" y="150" font-size="23"><tspan font-size="18.5">N</tspan>°2016/679</text>
<text class="xb" x="1753" y="179" font-size="21.5" stroke="#fff" stroke-width="0.9" textLength="95" lengthAdjust="spacingAndGlyphs">données</text>
<text class="xb" x="1753" y="209" font-size="21.5" stroke="#fff" stroke-width="0.9" textLength="145.5" lengthAdjust="spacingAndGlyphs">personnelles</text>
</g>
</g>

<!-- ===== responsable ===== -->
<g id="responsable">
<rect x="824.9" y="440" width="9" height="180" fill="#2E63BB"/>
<rect x="1093.3" y="440" width="9" height="180" fill="#2E63BB"/>
<rect x="821" y="373" width="285.7" height="86.3" rx="15" fill="#2E63BB"/>
<rect x="824.2" y="600.4" width="282.5" height="69" rx="15" fill="#2E63BB"/>
<text class="xb" x="864" y="427.8" font-size="35" fill="#fff" stroke="#fff" stroke-width="1.3" textLength="199.5" lengthAdjust="spacingAndGlyphs">responsable</text>
<text x="887.2" y="646.6" font-size="32.5" fill="#fff" textLength="156" lengthAdjust="spacingAndGlyphs">"controller"</text>
<path d="M875.4,600.4 V531.5 L913,512.6 V528.8 L943.2,512.6 V528.8 L973.4,512.6 V528.8 L1003.3,512.6 V529.9 H1015 L1018.3,461.4 H1039.3 L1042.2,529.9 H1049.4 V600.4 Z" fill="#000"/>
<g fill="#fff">
<rect x="889.1" y="545.5" width="27" height="17.2"/>
<rect x="927.9" y="545.5" width="26.8" height="17.2"/>
<rect x="966.3" y="545.5" width="27" height="17.2"/>
<rect x="1004.9" y="545.5" width="26.8" height="17.2"/>
</g>
<path d="M956.2,669 H971.7 V760.5 H993.3 L963.8,819.7 L934.2,760.5 H956.2 Z" fill="#000"/>
</g>
<!-- ===== chiffrement ===== -->
<g id="chiffrement">
<text class="xb" x="1194.7" y="372.4" font-size="31" fill="#000" stroke="#000" stroke-width="1.4" textLength="196.3" lengthAdjust="spacingAndGlyphs">chiffrement</text>
<rect x="1172.5" y="388.2" width="304" height="106" rx="11" fill="#fff" stroke="#2E63BB" stroke-width="15"/>
<rect x="1189.6" y="436.5" width="48" height="40.7" rx="4" fill="#fff" stroke="#000" stroke-width="6.2"/>
<circle cx="1212.9" cy="453.5" r="6" fill="#000"/>
<path d="M1210.6,455 h4.6 l0.6,10.5 h-5.8 Z" fill="#000" stroke="#000" stroke-width="1.2" stroke-linejoin="round"/>
<path d="M1231.1,434 V422.7 a16.7,16.7 0 0 1 33.4,0 V438.5" fill="none" stroke="#000" stroke-width="6.5" stroke-linecap="round"/>
<path d="M1240,450.2 H1358 V439.8 L1388,454.8 L1358,469.9 V459 H1240 Z" fill="#000"/>
<path d="M1400.2,423 A22.65,22.65 0 0 1 1444.5,423" fill="none" stroke="#000" stroke-width="8.2"/>
<path d="M1396,427.6 H1449 a5,5 0 0 1 5,5 V467 a12,12 0 0 1 -12,12 H1403 a12,12 0 0 1 -12,-12 V432.6 a5,5 0 0 1 5,-5 Z" fill="#000"/>
<circle cx="1422" cy="446.2" r="7.3" fill="#fff"/>
<path d="M1419.2,448 h5.6 l0.4,16.5 a3.2,3.2 0 0 1 -6.4,0 Z" fill="#fff"/>
</g>
<!-- ===== monitoring ===== -->
<g id="monitoring">
<text class="xb" x="1180" y="545.5" font-size="31" fill="#000" stroke="#000" stroke-width="1.6" textLength="253.4" lengthAdjust="spacingAndGlyphs">monitoring S.I.</text>
<rect x="1173.5" y="563.2" width="305.5" height="106.4" rx="11" fill="#fff" stroke="#2E63BB" stroke-width="15"/>
<g fill="#262626">
<path d="M1205,571.5 Q1197,570 1194.5,577 L1187,596 Q1185.5,601 1190,603.5 L1241,630.5 Q1246,633 1250,629.5 L1264,618.5 Q1267,616.5 1271,617.5 L1280,621 Q1284,622.5 1287.5,619.5 L1292.5,615.5 Q1295,612.5 1291,610.5 Z"/>
<path d="M1184.6,617.2 h7.7 v14.5 h24 q10,6 22,2.5 l-4,7.5 q-6,5 -14,5 h-28 v10 h-7.7 Z"/>
<circle cx="1224.7" cy="620.8" r="13.5"/>
<path d="M1256.6,634 L1270.3,622.6 L1277.6,625.7 L1271.2,639.8 Z"/>
</g>
<circle cx="1224.7" cy="620.8" r="4.6" fill="#fff"/>
<path d="M1212,629 q8,10 22,6" fill="none" stroke="#fff" stroke-width="2.2"/>
<g fill="#fff" stroke="#000" stroke-width="2">
<rect x="1304.7" y="577" width="48.5" height="81.5" rx="2"/>
<rect x="1311" y="586.5" width="36.5" height="7"/>
<rect x="1311" y="599.6" width="36.5" height="7"/>
<rect x="1311" y="612.8" width="36.5" height="7"/>
<rect x="1311" y="626" width="36.5" height="7"/>
<circle cx="1328.6" cy="647" r="5.2"/>
</g>
<g fill="#000">
<rect x="1375.1" y="576" width="78.9" height="20.8" rx="4"/>
<rect x="1375.1" y="605.7" width="78.9" height="21" rx="4"/>
<rect x="1375.1" y="636.1" width="78.9" height="23.4" rx="4"/>
</g>
<g fill="#fff">
<circle cx="1386" cy="585.7" r="5.8"/><rect x="1397" y="581" width="43.2" height="9.6" rx="4.8"/>
<circle cx="1386" cy="616" r="5.8"/><rect x="1397" y="611.3" width="43.2" height="9.6" rx="4.8"/>
<circle cx="1386" cy="647" r="5.8"/><rect x="1397" y="642.3" width="43.2" height="9.6" rx="4.8"/>
</g>
</g>
<!-- ===== pseudonymisation ===== -->
<g id="pseudo">
<defs>
<linearGradient id="hatchShade" x1="0" y1="0" x2="0" y2="1"><stop offset="0" stop-color="#000" stop-opacity="0.55"/><stop offset="0.3" stop-color="#000" stop-opacity="0.25"/><stop offset="0.6" stop-color="#000" stop-opacity="0"/><stop offset="0.85" stop-color="#000" stop-opacity="0"/><stop offset="1" stop-color="#000" stop-opacity="0.5"/></linearGradient>
<pattern id="hatch" x="1739.7" y="446" width="2.4" height="4" patternUnits="userSpaceOnUse">
<rect width="2.4" height="4" fill="#8a8a8a"/><rect width="1.1" height="4" fill="#e9e9e9"/><rect y="3.2" width="2.4" height="0.8" fill="#6a6a6a"/>
</pattern>
</defs>
<text class="xb" x="1532.1" y="368.5" font-size="31" fill="#000" stroke="#000" stroke-width="1.4" textLength="304.7" lengthAdjust="spacingAndGlyphs">pseudonymisation</text>
<rect x="1512.6" y="387.4" width="358.7" height="121.3" rx="20" fill="#2E63BB"/>
<g fill="#fff">
<rect x="1527.4" y="403" width="197.1" height="31" rx="2"/>
<rect x="1738" y="402" width="54.5" height="40" rx="2"/>
<rect x="1797" y="402" width="58.9" height="40" rx="2"/>
<rect x="1527.4" y="449.2" width="94.5" height="44.6" rx="3"/>
<rect x="1637.1" y="449.2" width="90.4" height="44.6" rx="3"/>
</g>
<rect x="1621.9" y="440" width="15.2" height="53.8" fill="#000"/>
<path d="M1607.1,401 V399.7 a19.6,19.6 0 0 1 39.2,0 V401" fill="none" stroke="#000" stroke-width="7.4"/>
<rect x="1598.1" y="400.4" width="56.3" height="47.3" rx="10" fill="#000"/>
<circle cx="1626.3" cy="416.3" r="6.5" fill="#fff"/>
<path d="M1623.8,418 h5 l0.4,17 a2.9,2.9 0 0 1 -5.8,0 Z" fill="#fff"/>
<text class="xb" x="1545" y="428.8" font-size="26.5" fill="#000" stroke="#000" stroke-width="1.5" textLength="21.6" lengthAdjust="spacingAndGlyphs">A</text>
<text class="xb" x="1674.3" y="428.8" font-size="26.5" fill="#000" stroke="#000" stroke-width="1.5" textLength="18.7" lengthAdjust="spacingAndGlyphs">B</text>
<text class="xb" x="1751.9" y="432" font-size="35" fill="#2E63BB" stroke="#2E63BB" stroke-width="1.6" textLength="20.3" lengthAdjust="spacingAndGlyphs">c</text>
<text class="xb" x="1817.9" y="432" font-size="35" fill="#2E63BB" stroke="#2E63BB" stroke-width="1.6" textLength="20.3" lengthAdjust="spacingAndGlyphs">d</text>
<text class="xb" x="1538.6" y="479.2" font-size="27" fill="#000" stroke="#000" stroke-width="1.6" textLength="71" lengthAdjust="spacingAndGlyphs">Mme</text>
<text class="xb" x="1642.8" y="478.2" font-size="23.5" fill="#C1361F" stroke="#C1361F" stroke-width="1.1" textLength="78.6" lengthAdjust="spacingAndGlyphs">9o1Zv</text>
<rect x="1733.6" y="440.2" width="128.4" height="61.4" rx="9" fill="#000"/>
<rect x="1739.7" y="446.3" width="116.8" height="49.2" rx="2" fill="url(#hatch)"/>
<rect x="1739.7" y="446.3" width="116.8" height="49.2" rx="2" fill="url(#hatchShade)"/>
<text class="xb" x="1746.8" y="488.4" font-size="40" fill="#fff" stroke="#fff" stroke-width="2.4" textLength="108.7" lengthAdjust="spacingAndGlyphs">DATA</text>
</g>
<!-- ===== audit ===== -->
<g id="audit">
<text class="xb" x="1561.5" y="547.4" font-size="31" fill="#000" stroke="#000" stroke-width="1.6" textLength="87" lengthAdjust="spacingAndGlyphs">audit</text>
<rect x="1559.1" y="560.6" width="306.3" height="106.6" rx="11" fill="#fff" stroke="#2E63BB" stroke-width="14.6"/>
<g fill="#000">
<circle cx="1595.6" cy="576" r="7.2"/>
<path d="M1583,586.5 h25 a4.6,4.6 0 0 1 4.6,4.6 V618 a2.6,2.6 0 0 1 -5.2,0 V594 h-1.6 V654.5 a4.4,4.4 0 0 1 -8.8,0 V622 h-2.8 V654.5 a4.4,4.4 0 0 1 -8.8,0 V594 h-1.6 V618 a2.6,2.6 0 0 1 -5.200,0 V591.1 a4.6,4.6 0 0 1 4.600,-4.6 Z"/>
<circle cx="1637" cy="576" r="7.2"/>
<path d="M1630,586.5 h14 q3,0 4.200,3.500 L1659.800,619 a2.500,2.500 0 0 1 -4.700,1.700 L1645.500,595 h-1 L1653.500,629.800 H1645 V654.500 a3,3 0 0 1 -6,0 V629.800 h-4 V654.500 a3,3 0 0 1 -6,0 V629.800 H1620.500 L1629.500,595 h-1 L1618.900,620.700 a2.500,2.500 0 0 1 -4.700,-1.700 L1625.800,590 q1.200,-3.500 4.200,-3.500 Z"/>
<path d="M1711.900,569.700 Q1730,580.500 1749.600,582.400 Q1751.500,633 1711.900,657.500 Q1672.500,633 1674.500,582.400 Q1694,580.500 1711.900,569.700 Z"/>
</g>
<path d="M1711.900,574.200 Q1729,583.800 1746,585.800 Q1747,631 1711.900,653 Q1677,631 1678,585.800 Q1695,583.800 1711.900,574.200 Z" fill="none" stroke="#bdbdbd" stroke-width="1.2"/>
<path d="M1794.600,581 L1834.500,647.200 H1754.700 Z" fill="#fff" stroke="#E8392B" stroke-width="10.500" stroke-linejoin="miter"/>
<path d="M1791.600,606 q3,-5 6,0 l-1.900,21.500 h-2.200 Z" fill="#000"/>
<circle cx="1794.600" cy="634" r="3.700" fill="#000"/>
</g>
<!-- ===== violation de données ===== -->
<g id="violation">
<rect x="823.4" y="880" width="10.6" height="150" fill="#000"/>
<rect x="1090.5" y="880" width="9.3" height="150" fill="#000"/>
<rect x="823.2" y="830.8" width="276.5" height="66.7" rx="12" fill="#000"/>
<rect x="826.9" y="1016.2" width="270.1" height="61" rx="10" fill="#C1361F"/>
<text class="xb" x="864.2" y="875.9" font-size="34" fill="#fff" stroke="#fff" stroke-width="1.3" textLength="195" lengthAdjust="spacingAndGlyphs">violation de</text>
<text class="xb" x="889.5" y="1058.9" font-size="30.500" fill="#fff" stroke="#fff" stroke-width="1.3" textLength="144.9" lengthAdjust="spacingAndGlyphs">DONNÉES</text>
<g fill="#000">
<path d="M824.4,900.2 L899.5,911.9 L874,930.8 L903,940.5 L906.8,933.8 L925,952 L900.2,958.5 L903.9,950.5 L847.7,938.1 L871,917.7 L825.8,917.7 Z"/>
<path d="M832.4,984.1 L887.1,964.4 L878.3,989.2 L907,982.5 L903.1,977.5 L924.3,981.6 L908.2,998.6 L909.5,990.8 L861.6,1006.7 L870.3,983.3 L832.4,998.6 Z"/>
<path d="M930.8,937 A31.4,12 0 0 1 993.6,937 V955.6 A31.4,7.5 0 0 1 930.8,955.6 Z"/>
<path d="M930.8,961.5 A31.4,8 0 0 0 993.6,961.5 V979.7 A31.4,7.5 0 0 1 930.8,979.7 Z"/>
<path d="M930.8,986.3 A31.4,7 0 0 0 993.6,986.3 V1002.300 A31.4,9 0 0 1 930.8,1002.3 Z"/>
</g>
<ellipse cx="961.8" cy="937.2" rx="25.8" ry="8.8" fill="#fff"/>
<g fill="#EA2E1C">
<path d="M999.4,941.8 L1041.7,915.5 L1041,938.1 L1071.5,921.8 L1067.9,918.4 L1087.6,917.7 L1077.4,933.8 L1075,929.8 L1029.3,958.5 L1031.5,935.2 L997.2,957.1 Z"/>
<path d="M1000.1,968 L1046,974.6 L1030,992.1 L1068.5,999.5 L1069.4,994.3 L1086.2,1007.4 L1065.7,1014.7 L1067.2,1008.9 L1003.8,1003 L1024.2,979 L1000.1,977.5 Z"/>
</g>
</g>
<g id="obligation">
<rect x="1101.4" y="830.8" width="74.1" height="246" rx="12" fill="#000"/>
<text class="xb" transform="translate(1150.2,1041) rotate(-90)" x="0" y="0" font-size="30.500" fill="#fff" stroke="#fff" stroke-width="1.3" textLength="174.8" lengthAdjust="spacingAndGlyphs">OBLIGATION</text>
</g>
<!-- ===== notification ===== -->
<g id="notification">
<path d="M1182.6,900 V1060 a16,16 0 0 0 16,16 H1498.500 a16,16 0 0 0 16,-16 V900" fill="#fff" stroke="#2E63BB" stroke-width="11.500"/>
<rect x="1175.3" y="833.2" width="347.500" height="92.8" rx="13" fill="#000"/>
<text class="xb" x="1214.500" y="896.6" font-size="46" fill="#fff" stroke="#fff" stroke-width="1.800" textLength="264.500" lengthAdjust="spacingAndGlyphs">notification</text>
<circle cx="1433" cy="998.7" r="58.500" fill="#fff" stroke="#000" stroke-width="7"/>
<circle cx="1433.2" cy="965" r="10.800" fill="#000"/>
<path d="M1412,986 H1445 V1029 H1454.800 V1035.500 H1411.500 V1029 H1421.600 V993 H1412 Z" fill="#000"/>
<g id="skull" fill="#000">
<path d="M1281.400,932.800 C1298,932.800 1307.500,944 1307.500,958 C1307.500,966 1305.500,969 1305.500,973 L1306,978.500 L1298,981 L1296.500,987 L1266.500,987 L1265,981 L1257,978.500 L1257.500,973 C1257.500,969 1255.500,966 1255.500,958 C1255.500,944 1265,932.800 1281.400,932.800 Z"/>
<path d="M1264,984 L1299,984 L1296.500,1000 C1294,1006 1288,1008.500 1281.500,1008.500 C1275,1008.500 1269,1006 1266.500,1000 Z"/>
</g>
<g fill="#fff">
<path d="M1264.800,966 Q1266,961.500 1271,962 Q1277,962.500 1277.800,967 Q1277.500,973 1272,975 Q1265,975.500 1264.800,966 Z"/>
<path d="M1298.200,966 Q1297,961.500 1292,962 Q1286,962.500 1285.200,967 Q1285.500,973 1291,975 Q1298,975.500 1298.200,966 Z"/>
<path d="M1281.500,972.500 L1285,982 L1281.500,980.500 L1278,982 Z"/>
<rect x="1272.500" y="992" width="2.200" height="4.500"/><rect x="1276.300" y="992" width="2.200" height="4.500"/><rect x="1280.100" y="992" width="2.200" height="4.500"/><rect x="1283.900" y="992" width="2.200" height="4.500"/><rect x="1287.700" y="992" width="2.200" height="4.500"/>
<rect x="1274" y="998" width="2.200" height="4"/><rect x="1277.800" y="998" width="2.200" height="4"/><rect x="1281.600" y="998" width="2.200" height="4"/><rect x="1285.400" y="998" width="2.200" height="4"/>
</g>
<g id="sword">
<path d="M1203,952.200 C1213,992 1260,1028 1309,1043 L1313.500,1032.500 C1268,1017 1226,988 1203,952.200 Z" fill="#000"/>
<path d="M1240,995 C1262,1013 1285,1025 1310,1035.500" fill="none" stroke="#fff" stroke-width="0.900"/>
<path d="M1331,1025 C1327,1018 1318.500,1019 1317.500,1028 C1316.500,1037 1315,1047 1311,1052 C1308,1056 1303,1054 1305.500,1049" fill="none" stroke="#000" stroke-width="5" stroke-linecap="round"/>
<path d="M1316,1037 L1345,1040.500" fill="none" stroke="#000" stroke-width="8"/>
<circle cx="1346.500" cy="1040.500" r="5.200" fill="#000"/>
</g>
<use href="#sword" transform="translate(2564.600,0) scale(-1,1)"/>
<path d="M1521.500,947 H1577 V925.200 L1635.300,955 L1577,984 V962 H1521.500 Z" fill="#000"/>
</g>
<!-- ===== CNIL ===== -->
<g id="cnil">
<rect x="1637" y="880" width="12" height="150" fill="#2E63BB"/>
<rect x="1852" y="880" width="13" height="150" fill="#2E63BB"/>
<rect x="1637" y="830.6" width="228" height="69.200" rx="13" fill="#2E63BB"/>
<rect x="1637" y="1009.500" width="228" height="68.500" rx="13" fill="#2E63BB"/>
<text class="xb" x="1682.800" y="876.500" font-size="34" fill="#fff" stroke="#fff" stroke-width="1.300" textLength="135.600" lengthAdjust="spacingAndGlyphs">autorité</text>
<text class="xb" x="1658.200" y="1055.400" font-size="34" fill="#fff" stroke="#fff" stroke-width="1.300" textLength="185.300" lengthAdjust="spacingAndGlyphs">de contrôle</text>
<text x="1656.900" y="982.800" font-size="76.500" font-weight="bold" fill="#2A57A3" textLength="166" lengthAdjust="spacingAndGlyphs">CNIL</text>
<rect x="1833.200" y="972.200" width="11.200" height="10.600" fill="#E1202A"/>
</g>
</svg>
</body>
</html>
